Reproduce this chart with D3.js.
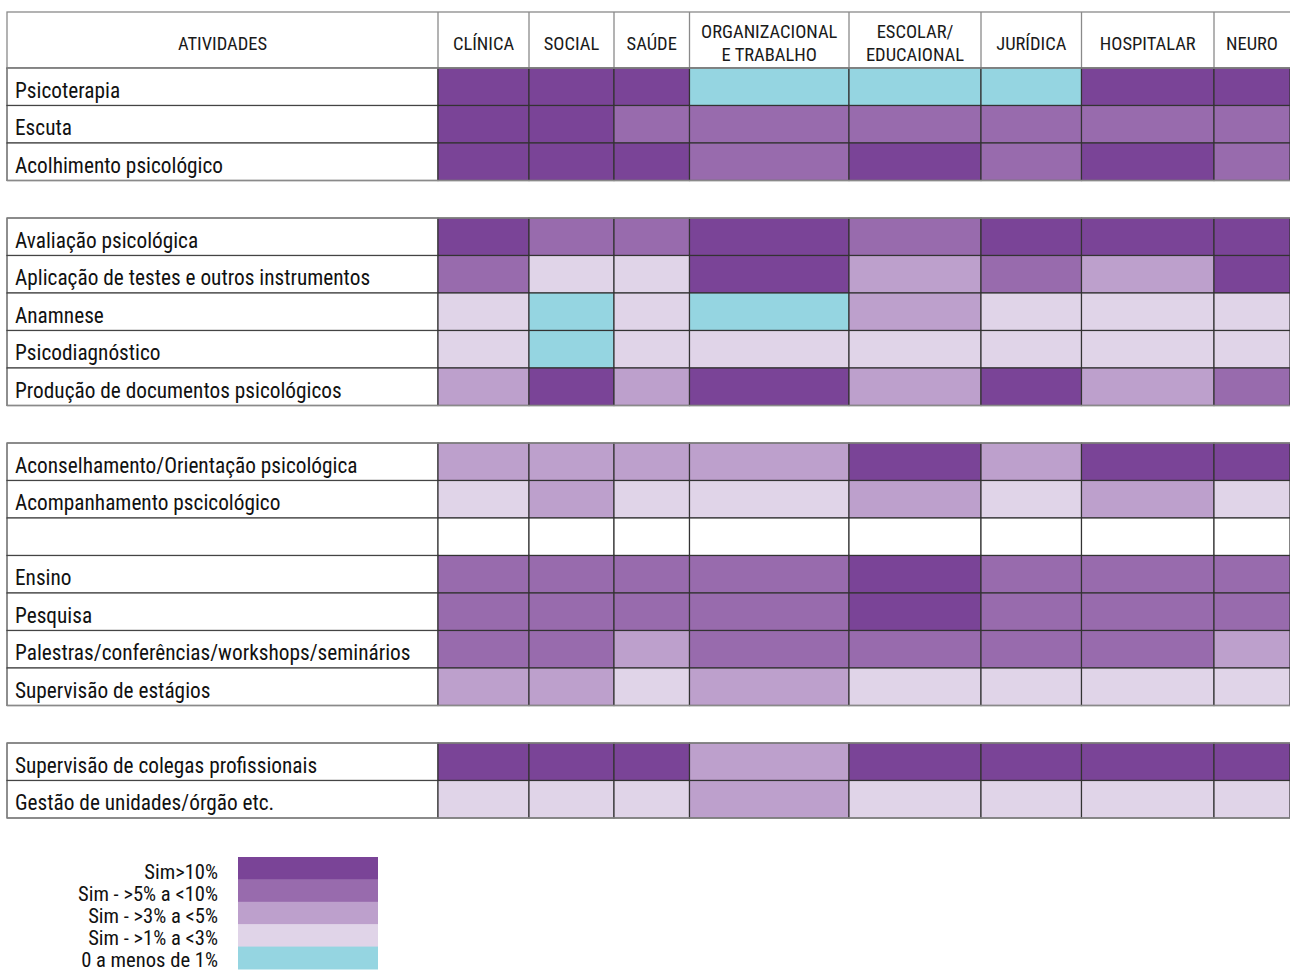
<!DOCTYPE html>
<html><head><meta charset="utf-8">
<script src="https://cdn.jsdelivr.net/npm/d3@7"></script>
<style>body{margin:0;background:#fff}</style>
</head><body>
<svg id="c" width="1290" height="970"></svg>
<script>
const categories = ["CLÍNICA","SOCIAL","SAÚDE","ORGANIZACIONAL\nE TRABALHO","ESCOLAR/\nEDUCAIONAL","JURÍDICA","HOSPITALAR","NEURO"];
const headerLabel = "ATIVIDADES";
// null = group gap
const activities = [
  "Psicoterapia","Escuta","Acolhimento psicológico",null,
  "Avaliação psicológica","Aplicação de testes e outros instrumentos","Anamnese","Psicodiagnóstico","Produção de documentos psicológicos",null,
  "Aconselhamento/Orientação psicológica","Acompanhamento pscicológico","","Ensino","Pesquisa","Palestras/conferências/workshops/seminários","Supervisão de estágios",null,
  "Supervisão de colegas profissionais","Gestão de unidades/órgão etc."
];
// levels: 4 = Sim>10%, 3 = >5% a <10%, 2 = >3% a <5%, 1 = >1% a <3%, 0 = 0 a menos de 1%
const levels = [
  [4,4,4,0,0,0,4,4],
  [4,4,3,3,3,3,3,3],
  [4,4,4,3,4,3,4,3],
  null,
  [4,3,3,4,3,4,4,4],
  [3,1,1,4,2,3,2,4],
  [1,0,1,0,2,1,1,1],
  [1,0,1,1,1,1,1,1],
  [2,4,2,4,2,4,2,3],
  null,
  [2,2,2,2,4,2,4,4],
  [1,2,1,1,2,1,2,1],
  [],
  [3,3,3,3,4,3,3,3],
  [3,3,3,3,4,3,3,3],
  [3,3,2,3,3,3,3,2],
  [2,2,1,2,1,1,1,1],
  null,
  [4,4,4,2,4,4,4,4],
  [1,1,1,2,1,1,1,1]
];
const legendLabels = ["Sim>10%","Sim - >5% a <10%","Sim - >3% a <5%","Sim - >1% a <3%","0 a menos de 1%"];
const legendLevels = [4,3,2,1,0];

// ---- layout ----
const colEdges = [438,529,614,689.5,849,981,1081.5,1214,1290];
const tableLeft = 7;
const headerTop = 12, headerBottom = 68, rowH = 37.5;
const FONT = "'Roboto Condensed','Liberation Sans Narrow',Roboto,sans-serif";

const color = d3.scaleOrdinal().domain([4,3,2,1,0]).range(["#7a4497","#986bad","#bda0cc","#e0d4e8","#95d5e1"]);
const xL = d3.scaleOrdinal().domain(d3.range(categories.length)).range(colEdges.slice(0,-1));
const xR = d3.scaleOrdinal().domain(d3.range(categories.length)).range(colEdges.slice(1));
const y = d3.scaleLinear().domain([0,1]).range([headerBottom, headerBottom+rowH]);

const svg = d3.select("#c");
const g = svg.append("g");

// header
g.append("rect").attr("x",tableLeft).attr("y",headerTop).attr("width",1290-tableLeft+5).attr("height",headerBottom-headerTop)
  .attr("fill","#fff").attr("stroke","#8a8a8a").attr("stroke-width",1.3);
const cy = (headerTop+headerBottom)/2;
categories.forEach((c,i)=>{
  g.append("line").attr("x1",xL(i)).attr("x2",xL(i)).attr("y1",headerTop).attr("y2",headerBottom).attr("stroke","#8a8a8a").attr("stroke-width",1.3);
  const lines = c.split("\n");
  const cx = (xL(i)+xR(i))/2;
  const t = g.append("text").attr("x",cx).attr("text-anchor","middle").attr("font-family",FONT).attr("font-size",18.5).attr("fill","#1a1a1a");
  lines.forEach((l,k)=>{
    t.append("tspan").attr("x",cx).attr("y",cy+9.5+(k-(lines.length-1)/2)*23).text(l);
  });
});
g.append("text").attr("x",(tableLeft+colEdges[0])/2).attr("y",cy+9.5).attr("text-anchor","middle")
  .attr("font-family",FONT).attr("font-size",18.5).attr("fill","#1a1a1a").text(headerLabel);

// rows
activities.forEach((a,r)=>{
  if(a===null) return;
  const y0 = y(r), y1 = y(r+1);
  g.append("rect").attr("x",tableLeft).attr("y",y0).attr("width",colEdges[0]-tableLeft).attr("height",y1-y0)
    .attr("fill","#fff").attr("stroke","#444").attr("stroke-width",1.2);
  g.append("text").attr("x",15).attr("y",y1-8).attr("font-family",FONT).attr("font-size",21.3).attr("fill","#111").text(a);
  categories.forEach((c,i)=>{
    const v = levels[r][i];
    g.append("rect").attr("x",xL(i)).attr("y",y0).attr("width",xR(i)-xL(i)).attr("height",y1-y0)
      .attr("fill", v===undefined?"#fff":color(v)).attr("stroke","#333").attr("stroke-width",1.2);
  });
});
// group borders (gray top/bottom)
let start=null;
activities.concat([null]).forEach((a,r)=>{
  if(a!==null && start===null) start=r;
  if(a===null && start!==null){
    [y(start),y(r)].forEach(yy=>g.append("line").attr("x1",tableLeft).attr("x2",1290).attr("y1",yy).attr("y2",yy).attr("stroke","#8a8a8a").attr("stroke-width",1.5));
    start=null;
  }
});

// legend
const ly = d3.scaleBand().domain(d3.range(legendLabels.length)).range([857,969]);
legendLabels.forEach((l,k)=>{
  g.append("rect").attr("x",238).attr("y",ly(k)).attr("width",140).attr("height",ly.bandwidth()+0.5).attr("fill",color(legendLevels[k]));
  g.append("text").attr("x",218).attr("y",ly(k)+ly.bandwidth()-0.4*k).attr("text-anchor","end").attr("font-family",FONT).attr("font-size",20.6).attr("fill","#111").text(l);
});
</script>
</body></html>
